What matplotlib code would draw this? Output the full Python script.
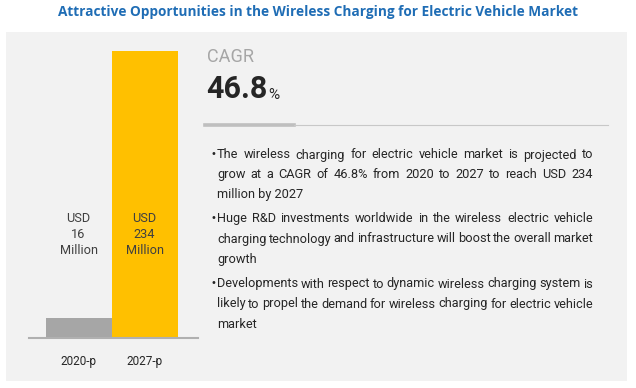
import matplotlib
matplotlib.use("Agg")
import matplotlib.pyplot as plt
from matplotlib.patches import Rectangle
from matplotlib.lines import Line2D

# ---- data ----
categories = ["2020-p", "2027-p"]
values = [16, 234]
bar_colors = ["#a6a6a6", "#ffc000"]
value_labels = ["USD\n16\nMillion", "USD\n234\nMillion"]
title = "Attractive Opportunities in the Wireless Charging for Electric Vehicle Market"
cagr_label = "CAGR"
cagr_value = "46.8"
bullets = [
    ["The wireless charging for electric vehicle market is projected to",
     "grow at a CAGR of 46.8% from 2020 to 2027 to reach USD 234",
     "million by 2027"],
    ["Huge R&D investments worldwide in the wireless electric vehicle",
     "charging technology and infrastructure will boost the overall market",
     "growth"],
    ["Developments with respect to dynamic wireless charging system is",
     "likely to propel the demand for wireless charging for electric vehicle",
     "market"],
]

W, H = 636, 388
fig = plt.figure(figsize=(W / 100, H / 100), dpi=100)
fig.patch.set_facecolor("white")

def fx(px):
    return px / W

def fy(py):
    return 1 - py / H

# background panel
fig.patches.append(Rectangle((fx(6), fy(381)), fx(621), (381 - 32) / H,
                             transform=fig.transFigure, facecolor="#f2f2f2",
                             edgecolor="none", zorder=-5))

fig.text(0.5, fy(12), title, ha="center", va="center", fontsize=9.8,
         fontweight="bold", color="#1f6db5", family="Open Sans")

# bar axes
ax = fig.add_axes([fx(29), fy(338), fx(169), 287 / H])
ax.set_zorder(2)
ax.set_facecolor("none")
x = list(range(len(categories)))
ax.bar(x, values, width=1.0, color=bar_colors, zorder=2)
ax.set_xlim(-0.75, 1.81)
ax.set_ylim(0, max(values))
for s in ["top", "left", "right"]:
    ax.spines[s].set_visible(False)
ax.spines["bottom"].set_color("#b0b0b0")
ax.spines["bottom"].set_linewidth(1.5)
ax.set_yticks([])
ax.set_xticks(x)
ax.set_xticklabels(categories, fontsize=8.5, color="#262626", family="Roboto")
ax.tick_params(axis="x", length=0, pad=12)
for i, lab in enumerate(value_labels):
    ax.text(i, 84, lab, ha="center", va="center", fontsize=9.2, color="#404040",
            family="Roboto", linespacing=1.3, zorder=3)

# CAGR block
fig.text(fx(207), fy(57), cagr_label, ha="left", va="center", fontsize=13,
         color="#a6a6a6", family="Roboto")
t = fig.text(fx(206), fy(89), cagr_value, ha="left", va="center", fontsize=22,
             fontweight="bold", color="#262626", family="Roboto")
fig.canvas.draw()
r = fig.canvas.get_renderer()
bb = t.get_window_extent(r)
fig.text(bb.x1 / W + fx(1), fy(95), "%", ha="left", va="center", fontsize=11,
         color="#262626", family="Roboto")

fig.add_artist(Line2D([fx(205), fx(294)], [fy(124.5), fy(124.5)],
                      transform=fig.transFigure, color="#bfbfbf", lw=2.6))
fig.add_artist(Line2D([fx(294), fx(608)], [fy(125), fy(125)],
                      transform=fig.transFigure, color="#c8c8c8", lw=0.8))

# justified bullets
left, right = 217, 593
ys = [[154, 174, 194], [218, 238, 258], [283, 303, 323]]
fs = 9.2
off = 4.5
for para, yl in zip(bullets, ys):
    fig.text(fx(left - 1), fy(yl[0]), "•", ha="right", va="center",
             fontsize=7, color="#262626", family="DejaVu Sans")
    for j, (line, yy) in enumerate(zip(para, yl)):
        yb = fy(yy + off)
        if j == len(para) - 1:
            fig.text(fx(left), yb, line, ha="left", va="baseline",
                     fontsize=fs, color="#262626", family="Roboto")
            continue
        words = line.split(" ")
        objs = [fig.text(0, yb, w_, ha="left", va="baseline", fontsize=fs,
                         color="#262626", family="Roboto") for w_ in words]
        widths = [o.get_window_extent(r).width for o in objs]
        gap = (right - left - sum(widths)) / (len(words) - 1)
        xpos = left
        for o, wd in zip(objs, widths):
            o.set_x(fx(xpos))
            xpos += wd + gap

fig.savefig("out.png", dpi=100, facecolor="white")
